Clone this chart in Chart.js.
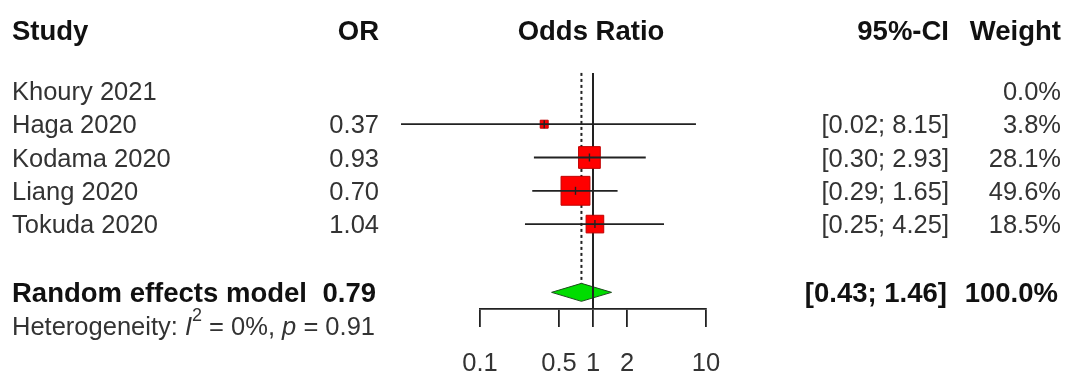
<!DOCTYPE html>
<html>
<head>
<meta charset="utf-8">
<script src="https://cdn.jsdelivr.net/npm/chart.js@4/dist/chart.umd.min.js"></script>
<style>
html,body{margin:0;padding:0;background:#fff;}
canvas{display:block;}
</style>
</head>
<body>
<canvas id="c" width="1070" height="379"></canvas>
<script>
// ---- data ----
const studies   = ['Khoury 2021', 'Haga 2020', 'Kodama 2020', 'Liang 2020', 'Tokuda 2020'];
const orValues  = [null, 0.37, 0.93, 0.70, 1.04];
const orLabels  = ['', '0.37', '0.93', '0.70', '1.04'];
const ciLower   = [null, 0.02, 0.30, 0.29, 0.25];
const ciUpper   = [null, 8.15, 2.93, 1.65, 4.25];
const ciLabels  = ['', '[0.02; 8.15]', '[0.30; 2.93]', '[0.29; 1.65]', '[0.25; 4.25]'];
const weights   = [0.0, 3.8, 28.1, 49.6, 18.5];
const weightLabels = ['0.0%', '3.8%', '28.1%', '49.6%', '18.5%'];
const pooledName  = 'Random effects model';
const pooledOR    = 0.79;
const pooledLower = 0.43;
const pooledUpper = 1.46;
const pooledORLabel = '0.79';
const pooledCILabel = '[0.43; 1.46]';
const pooledWeightLabel = '100.0%';
const headers = ['Study', 'OR', 'Odds Ratio', '95%-CI', 'Weight'];
const tickValues = [0.1, 0.5, 1, 2, 10];
const tickLabels = ['0.1', '0.5', '1', '2', '10'];

// ---- layout rows (y scale units) ----
const studyRows = studies.map((s, i) => i + 1);
const headerRow = -0.82;
const pooledRow = 7.05;
const hetRow = 8.05;
const refTop = 0.46;
const diamondHalf = 0.27;

const FONT = '"Liberation Sans", Arial, sans-serif';
const FS = 25.5;
const FSB = 27.5;
const TEXT_DY = 2;

const datasets = [];
// CI lines (drawn on top of boxes)
studies.forEach((s, i) => {
  if (orValues[i] === null) return;
  datasets.push({
    type: 'line', data: [{x: ciLower[i], y: studyRows[i]}, {x: ciUpper[i], y: studyRows[i]}],
    borderColor: '#222', borderWidth: 1.8, pointRadius: 0, fill: false, clip: false
  });
});
// centre ticks
datasets.push({
  type: 'scatter', clip: false,
  data: studies.map((s, i) => orValues[i] === null ? null : {x: orValues[i], y: studyRows[i]}).filter(d => d),
  pointStyle: 'line', rotation: 90, pointRadius: 4, borderColor: '#222', borderWidth: 1.4,
  backgroundColor: '#222'
});
// boxes
const boxData = [], boxRadius = [];
studies.forEach((s, i) => {
  if (orValues[i] === null) return;
  boxData.push({x: orValues[i], y: studyRows[i]});
  const side = 4.1 * Math.sqrt(weights[i]);
  boxRadius.push(side / Math.SQRT2);
});
datasets.push({
  type: 'scatter', clip: false, data: boxData, pointStyle: 'rect', pointRadius: boxRadius,
  backgroundColor: '#ff0000', borderColor: '#c00000', borderWidth: 1
});
// reference line at 1 (solid)
datasets.push({
  type: 'line', clip: false, data: [{x: 1, y: refTop}, {x: 1, y: 7.55}],
  borderColor: '#222', borderWidth: 2, pointRadius: 0, fill: false
});
// dotted line at pooled estimate
datasets.push({
  type: 'line', clip: false, data: [{x: pooledOR, y: refTop}, {x: pooledOR, y: pooledRow - diamondHalf}],
  borderColor: '#222', borderWidth: 2, borderDash: [3, 3], pointRadius: 0, fill: false
});
// diamond
datasets.push({
  type: 'line', clip: false,
  data: [
    {x: pooledLower, y: pooledRow}, {x: pooledOR, y: pooledRow - diamondHalf},
    {x: pooledUpper, y: pooledRow}, {x: pooledOR, y: pooledRow + diamondHalf},
    {x: pooledLower, y: pooledRow}
  ],
  borderColor: '#1d4d1d', borderWidth: 1, pointRadius: 0, tension: 0,
  fill: 'shape', backgroundColor: '#00dd00'
});

const textPlugin = {
  id: 'forestText',
  afterDraw(chart) {
    const ctx = chart.ctx;
    const ys = chart.scales.y, xs = chart.scales.x;
    const xStudy = 12, xOR = 379, xCI = 949, xW = 1061;
    const put = (txt, x, row, align, bold, color) => {
      ctx.font = (bold ? 'bold ' + FSB : FS) + 'px ' + FONT;
      ctx.textAlign = align;
      ctx.textBaseline = 'middle';
      ctx.fillStyle = color;
      ctx.fillText(txt, x, ys.getPixelForValue(row) + TEXT_DY);
    };
    ctx.save();
    // headers
    put(headers[0], xStudy, headerRow, 'left', true, '#111');
    put(headers[1], xOR, headerRow, 'right', true, '#111');
    put(headers[2], xs.getPixelForValue(1) - 2, headerRow, 'center', true, '#111');
    put(headers[3], xCI, headerRow, 'right', true, '#111');
    put(headers[4], xW, headerRow, 'right', true, '#111');
    // studies
    studies.forEach((s, i) => {
      put(s, xStudy, studyRows[i], 'left', false, '#333');
      if (orLabels[i]) put(orLabels[i], xOR, studyRows[i], 'right', false, '#333');
      if (ciLabels[i]) put(ciLabels[i], xCI, studyRows[i], 'right', false, '#333');
      put(weightLabels[i], xW, studyRows[i], 'right', false, '#333');
    });
    // pooled
    put(pooledName, xStudy, pooledRow, 'left', true, '#111');
    put(pooledORLabel, xOR - 3, pooledRow, 'right', true, '#111');
    put(pooledCILabel, xCI - 2, pooledRow, 'right', true, '#111');
    put(pooledWeightLabel, xW - 3, pooledRow, 'right', true, '#111');
    // heterogeneity
    const y = ys.getPixelForValue(hetRow) + TEXT_DY;
    let x = xStudy;
    const seg = (t, style, size, dy) => {
      ctx.font = style + size + 'px ' + FONT;
      ctx.textAlign = 'left';
      ctx.textBaseline = 'middle';
      ctx.fillStyle = '#333';
      ctx.fillText(t, x, y + dy);
      x += ctx.measureText(t).width;
    };
    seg('Heterogeneity: ', '', FS, 0);
    seg('I', 'italic ', FS, 0);
    seg('2', '', 18, -12);
    seg(' = 0%, ', '', FS, 0);
    seg('p', 'italic ', FS, 0);
    seg(' = 0.91', '', FS, 0);
    ctx.restore();
  }
};

new Chart(document.getElementById('c'), {
  data: { datasets },
  options: {
    responsive: false,
    animation: false,
    layout: { autoPadding: false, padding: { left: 480, right: 364, top: 0, bottom: 0 } },
    plugins: { legend: { display: false }, tooltip: { enabled: false } },
    scales: {
      x: {
        type: 'logarithmic', min: 0.1, max: 10, position: 'bottom',
        afterBuildTicks: (scale) => { scale.ticks = tickValues.map(v => ({value: v})); },
        afterFit: (scale) => { scale.height = 70; },
        ticks: {
          autoSkip: false, maxRotation: 0, minRotation: 0, padding: 22,
          color: '#333', font: { family: FONT, size: FS },
          callback: (v, i) => tickLabels[i]
        },
        grid: { drawOnChartArea: false, drawTicks: true, tickLength: 18, color: '#222', lineWidth: 1.8 },
        border: { display: true, color: '#222', width: 1.8 }
      },
      y: {
        type: 'linear', min: -1.73, max: 7.55, reverse: true, display: false
      }
    }
  },
  plugins: [textPlugin]
});
</script>
</body>
</html>
